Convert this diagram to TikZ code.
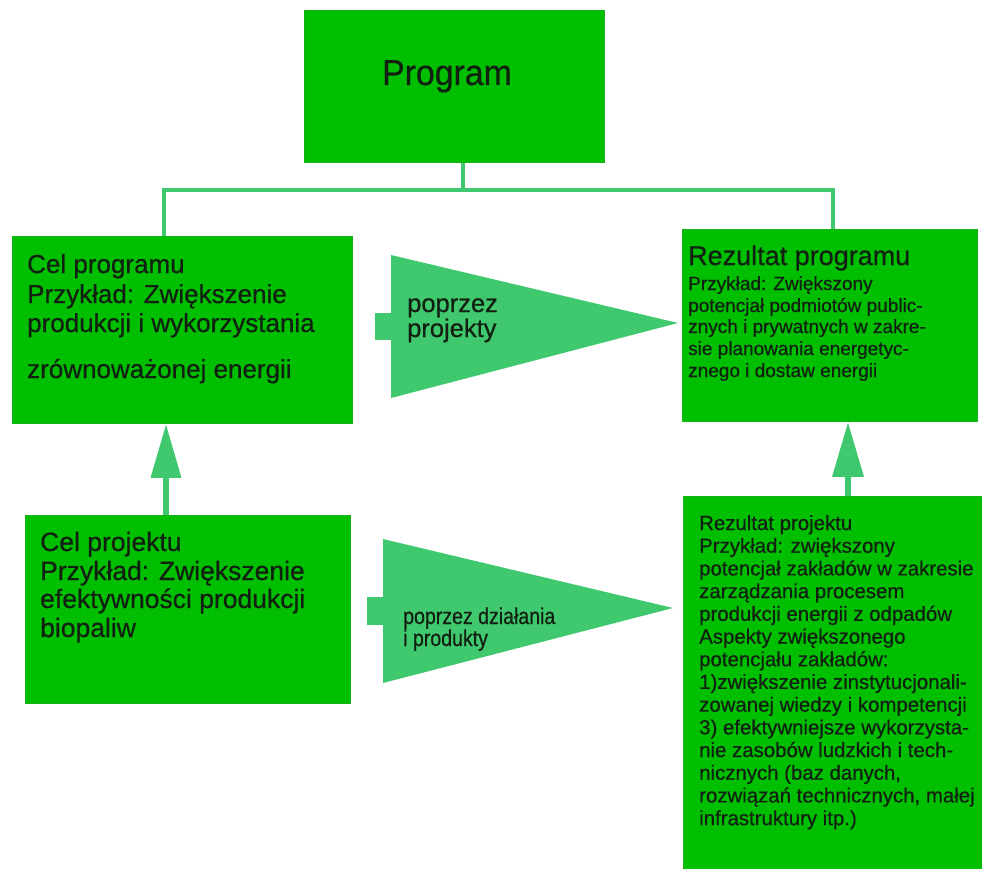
\documentclass[tikz,border=0pt]{standalone}
\usepackage{fontspec}
\setmainfont{Liberation Sans}[FakeBold=0.5]
\newfontfamily\heavysans{Liberation Sans}[FakeBold=0.6]
\newfontfamily\titlesans{Liberation Sans}[FakeStretch=0.94,FakeBold=0.6]
\newfontfamily\narrowsans{Liberation Sans}[FakeStretch=0.85,FakeBold=0.6]
\usetikzlibrary{arrows.meta}
\definecolor{boxgreen}{RGB}{0,190,0}
\definecolor{boxedge}{RGB}{20,175,20}
\definecolor{arrgreen}{RGB}{64,200,110}
\definecolor{ink}{RGB}{18,32,18}
\tikzset{
  gbox/.style={rectangle, fill=boxgreen, draw=boxedge, line width=0.8pt, inner sep=0pt, anchor=north west},
  conn/.style={draw=arrgreen, line width=4.5pt},
  uparrow/.style={draw=arrgreen, line width=6.5pt, -{Triangle[width=29pt,length=54pt]}},
  blockarr/.style={fill=arrgreen},
  ln/.style={anchor=base west, inner sep=0pt, text=ink},
  tA/.style={ln, font=\heavysans\fontsize{26}{30}\selectfont},
  tB/.style={ln, font=\heavysans\fontsize{26.5}{30}\selectfont},
  tH/.style={ln, font=\heavysans\fontsize{27}{30}\selectfont},
  tS/.style={ln, font=\heavysans\fontsize{19}{22}\selectfont},
  tR/.style={ln, font=\heavysans\fontsize{20.4}{23}\selectfont},
  tP/.style={ln, font=\heavysans\fontsize{25.5}{28}\selectfont},
  tN/.style={ln, font=\narrowsans\fontsize{23}{26}\selectfont},
}
\begin{document}
\begin{tikzpicture}[x=1pt,y=-1pt]
\useasboundingbox (0,0) rectangle (982,869);
% boxes
\node[gbox, minimum width=300pt, minimum height=152pt] (prog) at (304,10) {};
\node[gbox, minimum width=340pt, minimum height=187pt] (cprog) at (12,236) {};
\node[gbox, minimum width=295pt, minimum height=192pt] (rprog) at (682,229) {};
\node[gbox, minimum width=325pt, minimum height=188pt] (cproj) at (25,515) {};
\node[gbox, minimum width=305pt, minimum height=380pt] (rproj) at (683,496) {};
% tree connector
\coordinate (jm) at (463,190);
\coordinate (jl) at (164,190);
\coordinate (jr) at (833,190);
\draw[conn] (jm |- prog.south) -- (jm);
\draw[conn, line cap=rect] (jl) -- (jr);
\draw[conn] (jl) -- (jl |- cprog.north);
\draw[conn] (jr) -- (jr |- rprog.north);
% up arrows
\coordinate (ua) at (166,0);
\coordinate (ub) at (848,0);
\draw[uparrow] (ua |- cproj.north) -- (ua |- cprog.south);
\draw[uparrow, -{Triangle[width=30pt,length=55pt]}] (ub |- rproj.north) -- (ub |- rprog.south);
% block arrows
\fill[blockarr] (375,313) rectangle (392,340);
\fill[blockarr] (391,255) -- (678,323) -- (391,398) -- cycle;
\fill[blockarr] (367,597) rectangle (384,625);
\fill[blockarr] (383,539) -- (673,608) -- (383,683) -- cycle;
% texts
\node[ln, anchor=base, font=\titlesans\fontsize{36}{40}\selectfont] (tprog) at (447,85) {Program};
\node[tA] (c1) at (27,273) {Cel programu};
\node[tA] (c2) at (27,303) {Przykład: Zwiększenie};
\node[tA] (c3) at (27,332) {produkcji i wykorzystania};
\node[tA] (c4) at (27,378) {zrównoważonej energii};
\node[tB] (d1) at (40,551) {Cel projektu};
\node[tB] (d2) at (40,580) {Przykład: Zwiększenie};
\node[tB] (d3) at (40,608) {efektywności produkcji};
\node[tB] (d4) at (40,637) {biopaliw};
\node[tP] (p1) at (407,312) {poprzez};
\node[tP] (p2) at (407,337) {projekty};
\node[tN] (q1) at (403,624) {poprzez działania};
\node[tN] (q2) at (403,646) {i produkty};
\node[tH] (r0) at (688,265) {Rezultat programu};
\node[tS] (r1) at (688,290) {Przykład: Zwiększony};
\node[tS] (r2) at (688,312) {potencjał podmiotów public-};
\node[tS] (r3) at (688,333) {znych i prywatnych w zakre-};
\node[tS] (r4) at (688,355) {sie planowania energetyc-};
\node[tS] (r5) at (688,377) {znego i dostaw energii};
\node[tR] (s1) at (699,530.0) {Rezultat projektu};
\node[tR] (s2) at (699,552.7) {Przykład: zwiększony};
\node[tR] (s3) at (699,575.4) {potencjał zakładów w zakresie};
\node[tR] (s4) at (699,598.1) {zarządzania procesem};
\node[tR] (s5) at (699,620.8) {produkcji energii z odpadów};
\node[tR] (s6) at (699,643.5) {Aspekty zwiększonego};
\node[tR] (s7) at (699,666.2) {potencjału zakładów:};
\node[tR] (s8) at (699,688.9) {1)zwiększenie zinstytucjonali-};
\node[tR] (s9) at (699,711.6) {zowanej wiedzy i kompetencji};
\node[tR] (s10) at (699,734.3) {3) efektywniejsze wykorzysta-};
\node[tR] (s11) at (699,757.0) {nie zasobów ludzkich i tech-};
\node[tR] (s12) at (699,779.7) {nicznych (baz danych,};
\node[tR] (s13) at (699,802.4) {rozwiązań technicznych, małej};
\node[tR] (s14) at (699,825.1) {infrastruktury itp.)};
\end{tikzpicture}
\end{document}
